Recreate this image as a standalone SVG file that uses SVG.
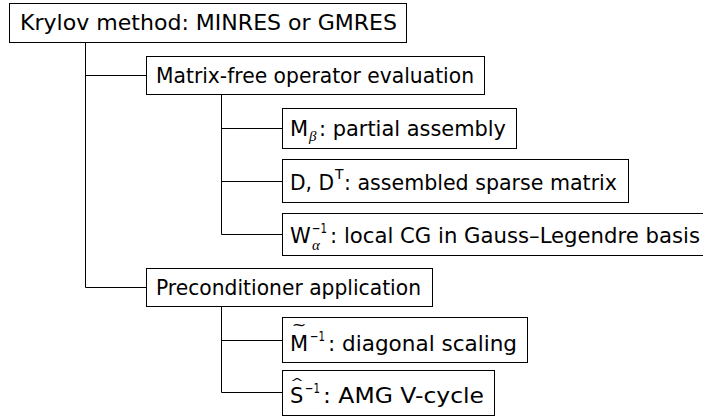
<svg xmlns="http://www.w3.org/2000/svg" width="703" height="416" viewBox="0 0 703 416">
<style>
.box{fill:#fff;stroke:#000;stroke-width:1}
.t{font-family:"DejaVu Sans",sans-serif;font-size:21px;fill:#000}
.s{font-family:"DejaVu Sans",sans-serif;font-size:14px;fill:#000}
.m{font-family:"Liberation Serif",serif;font-style:italic;font-size:15px;fill:#000}
.edge{fill:none;stroke:#000;stroke-width:1}
</style>
<rect width="703" height="416" fill="#fff"/>
<g id="connectors" class="edge">
<path d="M85.5 42 V287.5 H146"/>
<path d="M85.5 75.5 H146"/>
<path d="M221.5 94 V234.5 H282"/>
<path d="M221.5 128.5 H282"/>
<path d="M221.5 181.5 H282"/>
<path d="M221.5 306 V392.5 H282"/>
<path d="M221.5 340.5 H282"/>
</g>
<g id="krylov">
<rect class="box" x="9.5" y="3.5" width="397" height="39"/>
<text class="t" x="20" y="30" textLength="377" lengthAdjust="spacingAndGlyphs">Krylov method: MINRES or GMRES</text>
</g>
<g id="matrixfree">
<rect class="box" x="146.5" y="56.5" width="338" height="38"/>
<text class="t" x="156" y="83" textLength="318" lengthAdjust="spacingAndGlyphs">Matrix-free operator evaluation</text>
</g>
<g id="mbeta">
<rect class="box" x="282.5" y="108.5" width="234" height="40"/>
<text class="t" x="290" y="136">M</text>
<text class="m" x="309" y="141">β</text>
<text class="t" x="319" y="136" textLength="187" lengthAdjust="spacingAndGlyphs">: partial assembly</text>
</g>
<g id="dmat">
<rect class="box" x="282.5" y="159.5" width="346" height="43"/>
<text class="t" x="290" y="190" textLength="44" lengthAdjust="spacingAndGlyphs">D, D</text>
<text class="s" x="335" y="179">T</text>
<text class="t" x="344" y="190" textLength="273" lengthAdjust="spacingAndGlyphs">: assembled sparse matrix</text>
</g>
<g id="walpha">
<rect class="box" x="282.5" y="213.5" width="430" height="42"/>
<text class="t" x="290" y="243">W</text>
<text class="s" x="312" y="233" textLength="15" lengthAdjust="spacingAndGlyphs">−1</text>
<text class="m" x="312" y="250">α</text>
<text class="t" x="330" y="243" textLength="370" lengthAdjust="spacingAndGlyphs">: local CG in Gauss–Legendre basis</text>
</g>
<g id="precond">
<rect class="box" x="146.5" y="268.5" width="286" height="38"/>
<text class="t" x="156" y="295" textLength="265" lengthAdjust="spacingAndGlyphs">Preconditioner application</text>
</g>
<g id="mtilde">
<rect class="box" x="282.5" y="317.5" width="245" height="45"/>
<text class="t" x="290" y="351">M</text>
<text class="s" x="299" y="330" text-anchor="middle" transform="translate(299 0) scale(1.25 1) translate(-299 0)">~</text>
<text class="s" x="310" y="341" textLength="15" lengthAdjust="spacingAndGlyphs">−1</text>
<text class="t" x="328" y="351" textLength="189" lengthAdjust="spacingAndGlyphs">: diagonal scaling</text>
</g>
<g id="shat">
<rect class="box" x="282.5" y="370.5" width="212" height="45"/>
<text class="t" x="290" y="403">S</text>
<text class="s" x="297" y="386" text-anchor="middle" transform="translate(297 386) scale(1.2 0.8) translate(-297 -386)">^</text>
<text class="s" x="305" y="393" textLength="15" lengthAdjust="spacingAndGlyphs">−1</text>
<text class="t" x="323" y="403" textLength="161" lengthAdjust="spacingAndGlyphs">: AMG V-cycle</text>
</g>
</svg>
